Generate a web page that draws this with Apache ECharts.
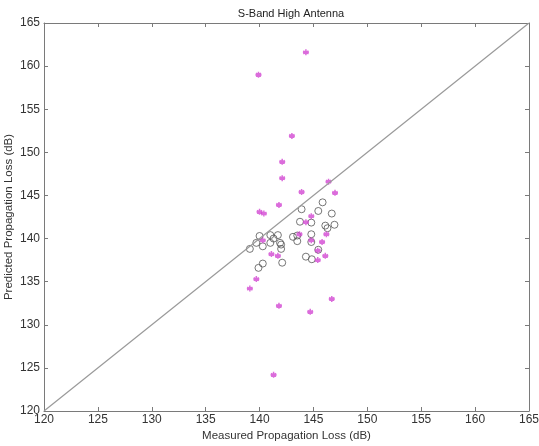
<!DOCTYPE html>
<html><head><meta charset="utf-8">
<script src="https://cdn.jsdelivr.net/npm/echarts@6/dist/echarts.min.js"></script>
<style>html,body{margin:0;padding:0;background:#fff;}#c{width:539px;height:446px;}</style>
</head><body><div id="c"></div>
<script>
const titleText = 'S-Band High Antenna';
const xName = 'Measured Propagation Loss (dB)';
const yName = 'Predicted Propagation Loss (dB)';
const ticks = [120,125,130,135,140,145,150,155,160,165];
const refLine = [[120,120],[165,165]];
const circles = [
  [145.85,144.2],[143.9,143.4],[145.45,143.2],[146.7,142.9],[143.75,141.95],
  [144.8,141.85],[146.1,141.5],[146.95,141.6],[146.3,141.2],[143.5,140.35],
  [144.8,140.5],[143.5,139.7],[144.8,139.6],[145.45,138.7],[144.3,137.9],
  [144.85,137.6],[140.0,140.3],[141.7,140.4],[141.3,140.0],[143.1,140.2],
  [141.0,139.5],[141.9,139.5],[142.0,139.3],[140.3,139.1],[139.7,139.5],
  [139.1,138.8],[142.0,138.8],[140.3,137.1],[139.9,136.6],[142.1,137.2],
  [141.0,140.4]
];
const stars = [
  [144.3,161.6],[139.9,159.0],[143.0,151.9],[142.1,148.9],[142.1,147.0],
  [146.4,146.6],[143.9,145.4],[147.0,145.3],[141.8,143.9],[140.0,143.1],
  [140.4,142.9],[144.8,142.6],[144.3,141.9],[143.7,140.5],[144.8,139.8],
  [145.8,139.6],[146.2,140.5],[140.3,139.8],[141.1,138.2],[141.7,138.0],
  [145.4,138.6],[146.1,138.0],[145.4,137.5],[139.7,135.3],[139.1,134.2],
  [141.8,132.2],[144.7,131.5],[146.7,133.0],[141.3,124.2]
];
const chart = echarts.init(document.getElementById('c'));
const axisCommon = {
  type:'value', min:ticks[0], max:ticks[ticks.length-1], interval:5,
  axisLine:{show:true, lineStyle:{color:'#7a7a7a', width:1}},
  axisTick:{show:true, inside:true, length:4, lineStyle:{color:'#7a7a7a'}},
  splitLine:{show:false}
};
const labelStyle = {color:'#333', fontSize:12, fontFamily:'Liberation Sans, Arial, sans-serif'};
const nameStyle = {color:'#333', fontSize:11.5, fontFamily:'Liberation Sans, Arial, sans-serif'};
chart.setOption({
  animation:false,
  backgroundColor:'#fff',
  title:{text:titleText, left:286, top:3, textAlign:'center',
    textStyle:{fontSize:11, fontWeight:'normal', color:'#222', fontFamily:'Liberation Sans, Arial, sans-serif'}},
  grid:{left:44, right:10, top:23, bottom:35, containLabel:false, outerBoundsMode:'none'},
  xAxis:[
    Object.assign({}, axisCommon, {position:'bottom', name:xName, nameLocation:'middle', nameGap:19,
      nameMoveOverlap:false,
      nameTextStyle:nameStyle, axisLabel:Object.assign({margin:3}, labelStyle)}),
    Object.assign({}, axisCommon, {position:'top', axisLabel:{show:false}})
  ],
  yAxis:[
    Object.assign({}, axisCommon, {position:'left', name:yName, nameLocation:'middle', nameGap:29,
      nameMoveOverlap:false,
      nameTextStyle:nameStyle, axisLabel:Object.assign({margin:4}, labelStyle)}),
    Object.assign({}, axisCommon, {position:'right', axisLabel:{show:false}})
  ],
  series:[
    {type:'line', data:refLine, symbol:'none', lineStyle:{color:'#9a9a9a', width:1.2}, silent:true},
    {type:'scatter', data:circles, symbol:'circle', symbolSize:7,
      itemStyle:{color:'rgba(255,255,255,0)', borderColor:'#555', borderWidth:1}},
    {type:'scatter', data:stars, symbol:'path://M0,-10L0,10M-8.66,-5L8.66,5M-8.66,5L8.66,-5M-10,0L10,0', symbolSize:6,
      itemStyle:{color:'none', borderColor:'#d247d2', borderWidth:1.5}}
  ]
});
</script></body></html>
